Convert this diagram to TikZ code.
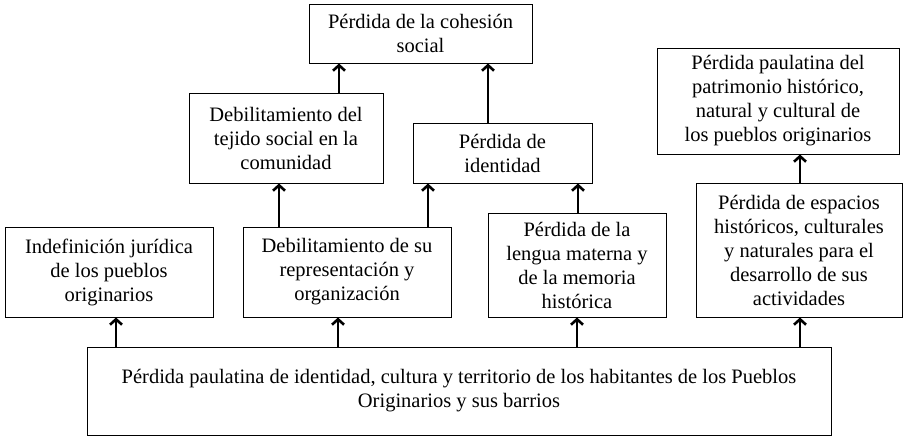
\documentclass[tikz,border=0pt]{standalone}
\usepackage{fontspec}
\setmainfont{Liberation Serif}
\usetikzlibrary{arrows.meta}

\tikzset{
  caja/.style={draw, line width=0.9pt, align=center, inner sep=2pt,
    font=\fontsize{20.5}{24}\selectfont},
  flecha/.style={line width=2.6pt, -{Straight Barb[length=5.5pt,width=12pt]}}
}

\begin{document}
\begin{tikzpicture}[x=1pt,y=-1pt]
\useasboundingbox (0,0) rectangle (904,437);
\draw (420.5,33.5) node[caja,minimum width=223pt,minimum height=59pt] (cohesion) {Pérdida de la cohesión\\social};
\draw (286,138) node[caja,minimum width=194pt,minimum height=90pt] (tejido) {Debilitamiento del\\tejido social en la\\comunidad};
\draw (502.5,153) node[caja,minimum width=179pt,minimum height=60pt] (identidad) {Pérdida de\\identidad};
\draw (778,101) node[caja,minimum width=242pt,minimum height=106pt] (patrimonio) {Pérdida paulatina del\\patrimonio histórico,\\natural y cultural de\\los pueblos originarios};
\draw (109,272) node[caja,minimum width=208pt,minimum height=90pt] (indef) {Indefinición jurídica\\de los pueblos\\originarios};
\draw (347,272) node[caja,minimum width=208pt,minimum height=90pt] (repre) {Debilitamiento de su\\representación y\\organización};
\draw (577,265) node[caja,minimum width=178pt,minimum height=104pt] (lengua) {Pérdida de la\\lengua materna y\\de la memoria\\histórica};
\draw (799,250) node[caja,minimum width=206pt,minimum height=134pt] (espacios) {Pérdida de espacios\\históricos, culturales\\y naturales para el\\desarrollo de sus\\actividades};
\draw (459,391) node[caja,minimum width=744pt,minimum height=88pt] (base) {Pérdida paulatina de identidad, cultura y territorio de los habitantes de los Pueblos\\Originarios y sus barrios};
% desde la base
\path (base.north -| 116,0) edge [flecha] (indef.south -| 116,0);
\path (base.north -| 338,0) edge [flecha] (repre.south -| 338,0);
\path (base.north -| 577,0) edge [flecha] (lengua.south -| 577,0);
\path (base.north -| 800,0) edge [flecha] (espacios.south -| 800,0);
% nivel medio
\path (repre.north -| 279,0) edge [flecha] (tejido.south -| 279,0);
\path (repre.north -| 428,0) edge [flecha] (identidad.south -| 428,0);
\path (lengua.north -| 578,0) edge [flecha] (identidad.south -| 578,0);
\path (espacios.north -| 800,0) edge [flecha] (patrimonio.south -| 800,0);
% arriba
\path (tejido.north -| 339,0) edge [flecha] (cohesion.south -| 339,0);
\path (identidad.north -| 488,0) edge [flecha] (cohesion.south -| 488,0);
\end{tikzpicture}
\end{document}
